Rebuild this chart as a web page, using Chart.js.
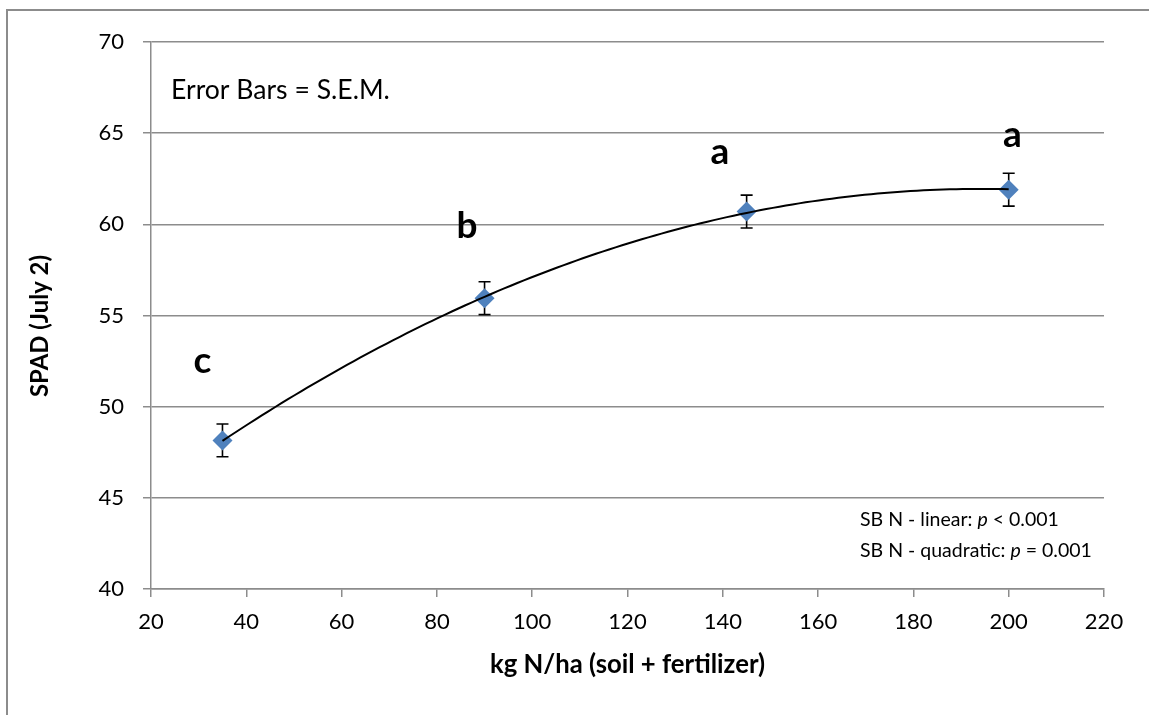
<!DOCTYPE html>
<html>
<head>
<meta charset="utf-8">
<script src="https://cdn.jsdelivr.net/npm/chart.js@4/dist/chart.umd.min.js"></script>
<style>
  html, body { margin: 0; padding: 0; background: #ffffff; }
  #wrap { width: 1149px; height: 715px; position: relative; }
  canvas { display: block; }
</style>
</head>
<body>
<div id="wrap"><canvas id="c" width="1149" height="715"></canvas></div>
<script>
// ---- data ----
const nitrogenRates = [35, 90, 145, 200];          // kg N/ha (soil + fertilizer)
const spadValues    = [48.15, 55.95, 60.7, 61.9];   // SPAD (July 2) means
const spadSEM       = [0.9, 0.9, 0.9, 0.9];         // S.E.M.
const letterLabels  = ['c', 'b', 'a', 'a'];          // significance letters
const letterX       = [30.8, 86.3, 139.4, 200.8];   // letter anchor (x, data units)
const letterY       = [51.85, 59.23, 63.3, 64.26];  // letter baseline (y, data units)
const xTicks = [20, 40, 60, 80, 100, 120, 140, 160, 180, 200, 220];
const yTicks = [40, 45, 50, 55, 60, 65, 70];

const FONT = 'Lato, "Open Sans", "Liberation Sans", sans-serif';

// quadratic (order 2) least-squares trendline from the data, as in the original
function quadFit(xs, ys) {
  let n = xs.length, S = [0,0,0,0,0], T = [0,0,0];
  for (let i = 0; i < n; i++) {
    let p = 1;
    for (let k = 0; k < 5; k++) { S[k] += p; if (k < 3) T[k] += p * ys[i]; p *= xs[i]; }
  }
  const M = [[S[0],S[1],S[2],T[0]],[S[1],S[2],S[3],T[1]],[S[2],S[3],S[4],T[2]]];
  for (let i = 0; i < 3; i++) {
    for (let j = i + 1; j < 3; j++) {
      const f = M[j][i] / M[i][i];
      for (let k = i; k < 4; k++) M[j][k] -= f * M[i][k];
    }
  }
  const c = [0,0,0];
  for (let i = 2; i >= 0; i--) {
    let s = M[i][3];
    for (let k = i + 1; k < 3; k++) s -= M[i][k] * c[k];
    c[i] = s / M[i][i];
  }
  return c;
}
const coef = quadFit(nitrogenRates, spadValues);
const trend = [];
{
  const x0 = nitrogenRates[0], x1 = nitrogenRates[nitrogenRates.length - 1];
  const steps = 120;
  for (let i = 0; i <= steps; i++) {
    const x = x0 + (x1 - x0) * i / steps;
    trend.push({ x: x, y: coef[0] + coef[1] * x + coef[2] * x * x });
  }
}

const GRID = '#8c8c8c';

// choose a font size so that a text run spans the width seen in the reference
function fitSize(ctx, text, style, target) {
  ctx.font = style + ' 100px ' + FONT;
  const w = ctx.measureText(text).width;
  return 100 * target / w;
}

const decorations = {
  id: 'decorations',
  beforeDraw(chart) {
    const ctx = chart.ctx;
    ctx.save();
    ctx.fillStyle = '#ffffff';
    ctx.fillRect(0, 0, chart.width, chart.height);
    ctx.strokeStyle = GRID;
    ctx.lineWidth = 2;
    ctx.beginPath();
    ctx.moveTo(7, chart.height + 2);
    ctx.lineTo(7, 10);
    ctx.lineTo(chart.width + 2, 10);
    ctx.stroke();
    ctx.restore();
  },
  beforeDatasetsDraw(chart) {
    const ctx = chart.ctx, xs = chart.scales.x, ys = chart.scales.y;
    ctx.save();
    ctx.strokeStyle = '#000000';
    ctx.lineWidth = 1.6;
    for (let i = 0; i < nitrogenRates.length; i++) {
      const px = xs.getPixelForValue(nitrogenRates[i]);
      const top = ys.getPixelForValue(spadValues[i] + spadSEM[i]);
      const bot = ys.getPixelForValue(spadValues[i] - spadSEM[i]);
      ctx.beginPath();
      ctx.moveTo(px, top); ctx.lineTo(px, bot);
      ctx.moveTo(px - 6, top); ctx.lineTo(px + 6, top);
      ctx.moveTo(px - 6, bot); ctx.lineTo(px + 6, bot);
      ctx.stroke();
    }
    ctx.restore();
  },
  afterDraw(chart) {
    const ctx = chart.ctx, xs = chart.scales.x, ys = chart.scales.y;
    const area = chart.chartArea;
    ctx.save();
    ctx.fillStyle = '#000000';
    ctx.textBaseline = 'alphabetic';

    // significance letters
    ctx.font = 'bold 37px ' + FONT;
    ctx.textAlign = 'center';
    for (let i = 0; i < letterLabels.length; i++) {
      ctx.fillText(letterLabels[i], xs.getPixelForValue(letterX[i]), ys.getPixelForValue(letterY[i]));
    }

    // Error bars note
    ctx.textAlign = 'left';
    const ebText = 'Error Bars = S.E.M.';
    ctx.font = fitSize(ctx, ebText, 'normal', 219).toFixed(2) + 'px ' + FONT;
    ctx.fillText(ebText, 171, 99);

    // p-value notes with italic p
    const pSize = 19.5;
    function mixed(parts, x, y) {
      let cx = x;
      for (const [txt, italic] of parts) {
        ctx.font = (italic ? 'italic ' : 'normal ') + pSize + 'px ' + FONT;
        ctx.fillText(txt, cx, y);
        cx += ctx.measureText(txt).width;
      }
    }
    mixed([['SB N - linear: ', false], ['p', true], [' < 0.001', false]], 860, 526);
    mixed([['SB N - quadratic: ', false], ['p', true], [' = 0.001', false]], 860, 557);

    // axis titles
    ctx.textAlign = 'center';
    ctx.textBaseline = 'middle';
    const xt = 'kg N/ha (soil + fertilizer)';
    ctx.font = 'bold ' + fitSize(ctx, xt, 'bold', 275).toFixed(2) + 'px ' + FONT;
    ctx.fillText(xt, (area.left + area.right) / 2, 665);
    const yt = 'SPAD (July 2)';
    ctx.font = 'bold ' + fitSize(ctx, yt, 'bold', 142).toFixed(2) + 'px ' + FONT;
    ctx.translate(40, 326);
    ctx.rotate(-Math.PI / 2);
    ctx.fillText(yt, 0, 0);
    ctx.restore();
  }
};

new Chart(document.getElementById('c'), {
  type: 'scatter',
  data: {
    datasets: [
      {
        label: 'Poly. trend',
        data: trend,
        showLine: true,
        borderColor: '#000000',
        borderWidth: 2,
        pointRadius: 0,
        pointHoverRadius: 0,
        tension: 0,
        fill: false
      },
      {
        label: 'SPAD',
        data: nitrogenRates.map((x, i) => ({ x: x, y: spadValues[i] })),
        pointStyle: 'rectRot',
        pointRadius: 10,
        pointHoverRadius: 10,
        backgroundColor: '#4F81BD',
        borderColor: '#4F81BD',
        borderWidth: 0,
        showLine: false
      }
    ]
  },
  options: {
    responsive: false,
    animation: false,
    devicePixelRatio: 1,
    layout: { padding: { left: 0, top: 42, right: 45, bottom: 0 } },
    plugins: { legend: { display: false }, tooltip: { enabled: false } },
    scales: {
      x: {
        type: 'linear',
        min: 20, max: 220,
        afterBuildTicks(scale) { scale.ticks = xTicks.map(v => ({ value: v })); },
        afterFit(scale) { scale.height = 126; },
        grid: { display: true, drawOnChartArea: false, drawTicks: true, tickLength: 8, color: GRID, lineWidth: 1.5 },
        border: { display: true, color: GRID, width: 1.5 },
        ticks: { color: '#000000', font: { family: FONT, size: 22 }, padding: 12, maxRotation: 0, autoSkip: false }
      },
      y: {
        type: 'linear',
        min: 40, max: 70,
        afterBuildTicks(scale) { scale.ticks = yTicks.map(v => ({ value: v })); },
        afterFit(scale) { scale.width = 151; },
        grid: { display: true, drawTicks: true, tickLength: 8, color: GRID, lineWidth: 1.5 },
        border: { display: true, color: GRID, width: 1.5 },
        ticks: { color: '#000000', font: { family: FONT, size: 22 }, padding: 19, autoSkip: false }
      }
    }
  },
  plugins: [decorations]
});
</script>
</body>
</html>
